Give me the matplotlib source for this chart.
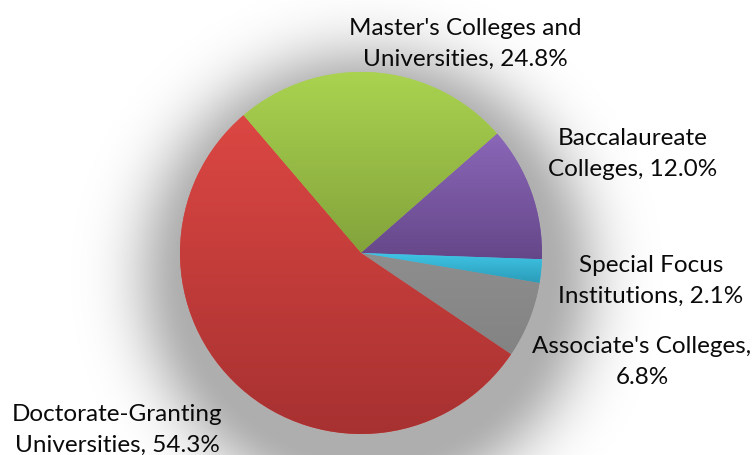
import matplotlib.pyplot as plt
import numpy as np
from matplotlib.colors import LinearSegmentedColormap

# carnegie classification shares, clockwise from the top-left
names = ["Master's Colleges and\nUniversities", "Baccalaureate\nColleges",
         "Special Focus\nInstitutions", "Associate's Colleges", "Doctorate-Granting\nUniversities"]
shares = [24.8, 12.0, 2.1, 6.8, 54.3]
seps = [", ", ", ", ", ", ",\n", ", "]

top_cols = ['#aad350', '#8b67b8', '#40c4e6', '#8e8e8e', '#dc4743']
bot_cols = ['#83a33b', '#654789', '#2a9cb8', '#838383', '#a73131']

# label centres in pixels (x, y from top)
label_pos = [(465, 44), (633, 154), (651, 281), (642, 362), (117, 430)]

W, H = 755, 455
cx, cy, R = 361, H - 253, 181

plt.rcParams['font.family'] = ['Lato', 'DejaVu Sans']

fig = plt.figure(figsize=(W / 100, H / 100), dpi=100)
ax = fig.add_axes([0, 0, 1, 1])

# soft shadow, pushed down below the pie
gx, gy = np.meshgrid(np.arange(W) + 0.5, np.arange(H) + 0.5)
d = np.hypot(gx - cx - 6, (H - gy) - cy + 24)
alpha = np.where(d < R, 0.32, 0.32 * np.exp(-((d - R) / 55.0) ** 2))
shadow = np.zeros((H, W, 4))
shadow[..., 3] = alpha
ax.imshow(shadow, extent=[0, W, 0, H], origin='upper', zorder=0, interpolation='bilinear')

wedges, _ = ax.pie(shares, center=(cx, cy), radius=R, startangle=130.5,
                   counterclock=False, colors=top_cols, frame=True,
                   wedgeprops=dict(linewidth=0))

# vertical gradient inside each slice
grad = np.linspace(0, 1, 256).reshape(-1, 1)
for w, c0, c1 in zip(wedges, top_cols, bot_cols):
    ext = w.get_path().get_extents()
    cmap = LinearSegmentedColormap.from_list('g', [c0, c1])
    im = ax.imshow(grad, cmap=cmap, aspect='auto', origin='upper',
                   extent=[ext.x0, ext.x1, ext.y0, ext.y1], zorder=2)
    im.set_clip_path(w)

for name, v, sep, (px, py) in zip(names, shares, seps, label_pos):
    ax.text(px, H - py, f"{name}{sep}{v:.1f}%", ha='center', va='center',
            fontsize=17.5, color='#0a0a0a', linespacing=1.6, zorder=5)

ax.set_xlim(0, W)
ax.set_ylim(0, H)
ax.set_aspect('equal')
ax.axis('off')

fig.savefig('out.png', dpi=100)
